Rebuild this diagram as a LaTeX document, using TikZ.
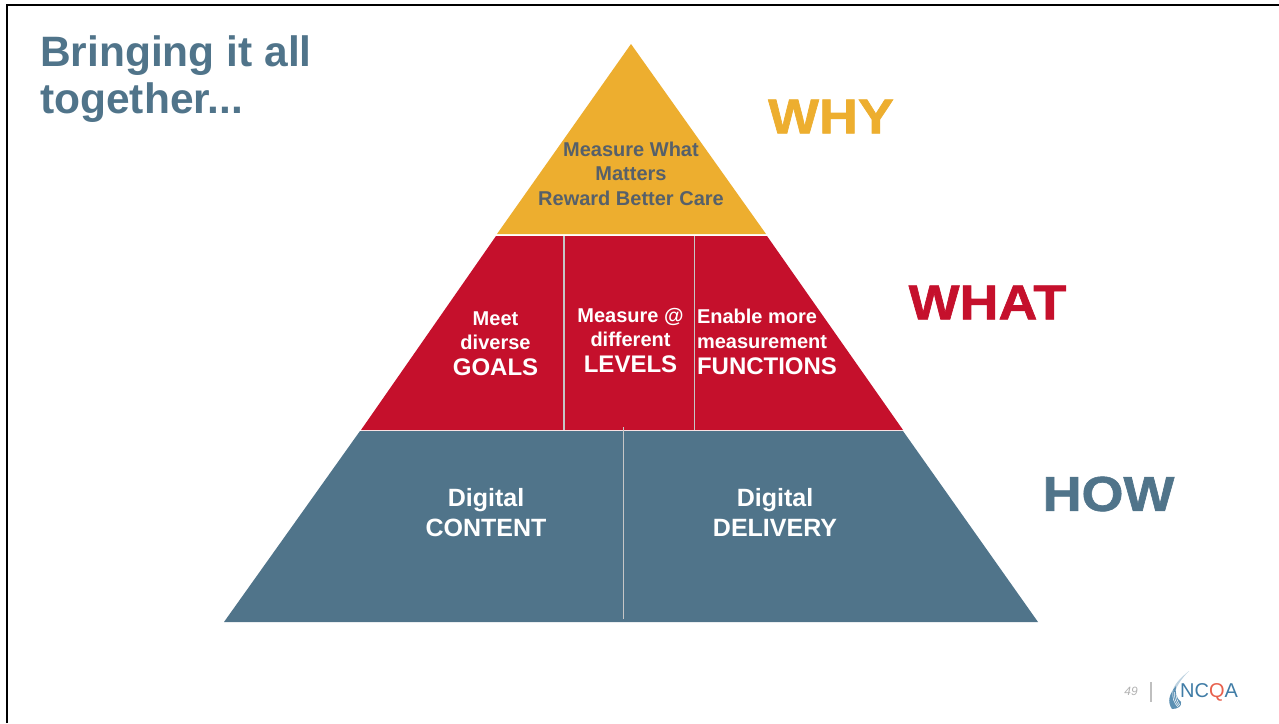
\documentclass[tikz,border=0pt]{standalone}
\usepackage{xcolor}
\usepackage{fontspec}
\setmainfont{Liberation Sans}
\newfontfamily\heavyfont[FakeStretch=1.1,BoldFeatures={FakeBold=1.3}]{Liberation Sans}
\definecolor{slateblue}{HTML}{50748A}
\definecolor{goldtier}{HTML}{EDAE2F}
\definecolor{redtier}{HTML}{C5102C}
\definecolor{darktext}{HTML}{56606A}
\definecolor{logoblue}{HTML}{3F7CA6}
\definecolor{logored}{HTML}{E8604C}
\newcommand{\bigline}[1]{{\bfseries\fontsize{24}{25}\selectfont #1}}
\tikzset{
	lbl/.style={align=center, font=\bfseries\fontsize{20}{24.5}\selectfont, text=white, inner sep=0pt},
	big/.style={font=\bfseries\fontsize{25}{30}\selectfont},
	side/.style={font=\heavyfont\bfseries\fontsize{49}{56}\selectfont, inner sep=0pt},
	divider/.style={draw=white!55!gray, line width=1pt}
}
\begin{document}
\begin{tikzpicture}[x=1pt, y=-1pt]
	\useasboundingbox (0,0) rectangle (1279,723);
	\fill[white] (0,0) rectangle (1279,723);
	% Frame
	\draw[black, line width=2pt] (7,723) -- (7,5) -- (1279,5);
	% Corners
	\coordinate (apex) at (631,44);
	\coordinate (gl) at (497,234);
	\coordinate (gr) at (766,234);
	\coordinate (rl) at (361,430);
	\coordinate (rr) at (903,430);
	\coordinate (bl) at (224,622);
	\coordinate (br) at (1038,622);
	% Tiers
	\fill[goldtier] (apex) -- (gr) -- (gl) -- cycle;
	\fill[redtier] (496,236) -- (767,236) -- (rr) -- (rl) -- cycle;
	\fill[slateblue] (360,431) -- (903,431) -- (br) -- (bl) -- cycle;
	% Dividers
	\coordinate (d1t) at (564,236);
	\coordinate (d1b) at (564,430);
	\coordinate (d2t) at (694,236);
	\coordinate (d2b) at (694,430);
	\coordinate (d3t) at (623.5,427);
	\coordinate (d3b) at (623.5,619);
	\draw[divider, line width=2.5pt] (d1t) -- (d1b);
	\draw[divider] (d2t) -- (d2b);
	\draw[divider] (d3t) -- (d3b);
	% Title
	\node[anchor=north west, align=left, inner sep=0pt, text=slateblue, font=\bfseries\fontsize{42.5}{47}\selectfont] (title) at (40,36) {Bringing it all\\together...};
	% Labels
	\node[lbl, text=darktext] (why) at (631,173.5) {Measure What\\Matters\\Reward Better Care};
	\node[lbl] (goals) at (495.5,343.5) {Meet\\diverse\\[1.5pt]\bigline{GOALS}};
	\node[lbl] (levels) at (630.5,340.5) {Measure @\\different\\[1.5pt]\bigline{LEVELS}};
	\node[lbl, align=left] (functions) at (767,342) {Enable more\\measurement\\[1.5pt]\bigline{FUNCTIONS}};
	\node[lbl, big] (content) at (486,513) {Digital\\CONTENT};
	\node[lbl, big] (delivery) at (775,512) {Digital\\DELIVERY};
	% Side words
	\node[side, text=goldtier] (whyw) at (831,116.5) {WHY};
	\node[side, text=redtier] (whatw) at (987.5,302.5) {WHAT};
	\node[side, text=slateblue] (howw) at (1108.5,494) {HOW};
	% Footer
	\node[inner sep=0pt, text=gray!60, font=\itshape\fontsize{12}{14}\selectfont] (page) at (1131,691) {49};
	\draw[gray!50, line width=1.5pt] (1151,682) -- (1151,702);
	\fill[logoblue!35] (1189,671) .. controls (1179,679) and (1174,685) .. (1172,692) -- (1175,692) .. controls (1177,685) and (1182,678) .. cycle;
	\fill[logoblue!85] (1176,686) .. controls (1169,694) and (1167,702) .. (1172,709) .. controls (1178,709) and (1182,706) .. (1181,702) .. controls (1176,698) and (1175,692) .. cycle;
	\foreach \i in {0,1,2}
		\draw[white, line width=.5pt] (1173+\i*1.5,690+\i*2) .. controls (1172+\i*2,698) and (1174+\i*2,703) .. (1178+\i,707-\i);
	\node[anchor=west, inner sep=0pt, font=\fontsize{20}{22}\selectfont, text=logoblue] (logo) at (1180,692) {NC\textcolor{logored}{Q}A};
\end{tikzpicture}
\end{document}
